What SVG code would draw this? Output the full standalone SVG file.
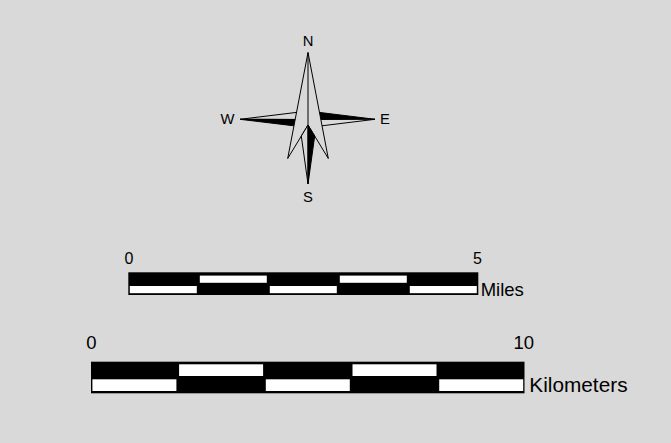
<svg xmlns="http://www.w3.org/2000/svg" width="671" height="443" viewBox="0 0 671 443">
<style>
.t{font-family:"Liberation Sans",Arial,sans-serif;fill:#000}
.lt{fill:#d9d9d9;stroke:#000;stroke-width:1;stroke-linejoin:miter}
.dk{fill:#000;stroke:#000;stroke-width:1;stroke-linejoin:miter}
.w{fill:#fff}
</style>
<rect x="0" y="0" width="671" height="443" fill="#d9d9d9"/>
<g id="compass">
<polygon class="lt" points="240,119.3 308,111 308,119.5"/>
<polygon class="dk" points="240,119.3 308,119.5 308,127.5"/>
<polygon class="dk" points="375,119.3 308,111 308,119.5"/>
<polygon class="lt" points="375,119.3 308,119.5 308,127.5"/>
<polygon class="lt" points="308,52.5 328.3,158.5 308,125 287.7,158.5"/>
<line x1="308" y1="52.5" x2="308" y2="125" stroke="#000" stroke-width="1"/>
<polygon class="lt" points="308,125 301.3,136 308,184"/>
<polygon class="dk" points="308,125 314.7,136 308,184"/>
<text class="t" x="308" y="45.7" font-size="14.8" text-anchor="middle">N</text>
<text class="t" x="308" y="201.7" font-size="14.8" text-anchor="middle">S</text>
<text class="t" x="227.5" y="124.3" font-size="14.8" text-anchor="middle">W</text>
<text class="t" x="380" y="124.3" font-size="14.8">E</text>
</g>
<g id="miles-scale">
<rect x="128.3" y="272.3" width="350" height="22.7" fill="#000"/>
<rect class="w" x="199.8" y="275.6" width="67" height="7.2"/>
<rect class="w" x="339.8" y="275.6" width="67" height="7.2"/>
<rect class="w" x="129.8" y="286" width="67" height="7.2"/>
<rect class="w" x="269.8" y="286" width="67" height="7.2"/>
<rect class="w" x="409.8" y="286" width="67" height="7.2"/>
<text class="t" x="129" y="264" font-size="16" text-anchor="middle">0</text>
<text class="t" x="477.5" y="264" font-size="16" text-anchor="middle">5</text>
<text class="t" x="480.7" y="296" font-size="18.5">Miles</text>
</g>
<g id="km-scale">
<rect x="91" y="361.7" width="433.5" height="31.6" fill="#000"/>
<rect class="w" x="179.1" y="364.3" width="84" height="11.7"/>
<rect class="w" x="352.5" y="364.3" width="84" height="11.7"/>
<rect class="w" x="92.4" y="379.3" width="84" height="11.7"/>
<rect class="w" x="265.8" y="379.3" width="84" height="11.7"/>
<rect class="w" x="439.2" y="379.3" width="84" height="11.7"/>
<text class="t" x="91.3" y="349" font-size="18.5" text-anchor="middle">0</text>
<text class="t" x="523.7" y="349" font-size="18.5" text-anchor="middle">10</text>
<text class="t" x="529.3" y="392" font-size="20.8">Kilometers</text>
</g>
</svg>
